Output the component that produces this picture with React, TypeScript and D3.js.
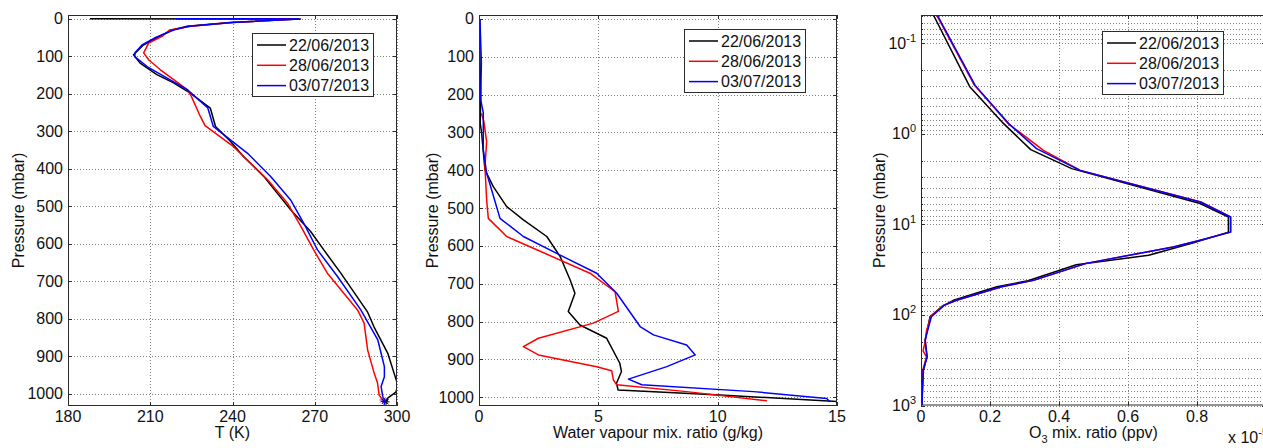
import React from 'react';
import * as d3 from 'd3';

type Pt = [number, number];

const dates = ['22/06/2013', '28/06/2013', '03/07/2013'];
const colors = ['#000000', '#ff0000', '#0000ff'];

// Temperature profiles [pressure mbar, T K]
const tBlack: Pt[] = [[0,188],[0.5,264.8],[10,239],[20,223.5],[30,218],[50,212.5],[70,207.5],[96,203.9],[118,206.3],[149,212.4],[171,218.5],[198,224.6],[238,231.9],[287,233.8],[327,239.3],[367,244],[420,251.4],[509,261.2],[567,268.5],[616,273.3],[678,279.5],[782,289.3],[821,291.6],[891,296.6],[976,300.3],[995,299.6],[1011,296.6],[1021,296]];
const tRed: Pt[] = [[0,249.6],[0.5,262.4],[10,240],[20,225],[30,217],[46,214.5],[65,209.4],[91,207.6],[110,209.5],[136,213.7],[189,223.5],[207,225],[261,228.3],[285,230],[341,240.4],[429,252.8],[491,260],[554,265],[616,269.6],[678,274.6],[776,285.6],[811,288],[883,289.3],[945,291.7],[971,292.9],[1003,293.5],[1016,294.8]];
const tBlue: Pt[] = [[0,219.4],[0.5,264],[10,240],[20,224],[30,218.5],[50,212],[70,207],[90,204.5],[101,204.3],[128,209],[189,223.5],[238,231],[287,233],[330,240.5],[358,245.4],[421,254],[483,261.2],[545,266],[616,271],[687,278.3],[776,286.8],[856,293],[927,295.4],[954,295.4],[980,294.2],[1007,294.8],[1020,295.4]];

// Water vapour mixing ratio [pressure mbar, g/kg]
const wBlack: Pt[] = [[0,0.03],[100,0.04],[213,0.07],[275,0.05],[302,0.11],[399,0.25],[443,0.6],[496,1.16],[531,1.86],[575,2.84],[628,3.4],[690,3.82],[725,4.02],[773,3.74],[809,4.23],[844,5.35],[910,5.9],[932,5.97],[963,5.76],[981,5.83],[994,10.1],[1012,15.3]];
const wRed: Pt[] = [[249,0.1],[270,0.2],[324,0.32],[390,0.25],[478,0.32],[527,0.39],[575,1.16],[610,2.42],[672,4.65],[721,5.7],[773,5.84],[804,4.79],[844,2.49],[866,1.86],[888,2.49],[919,4.93],[930,5.56],[954,5.63],[967,5.77],[985,8.7],[1009,12.06]];
const wBlue: Pt[] = [[0,0.04],[116,0.1],[213,0.07],[248,0.18],[346,0.18],[407,0.32],[527,0.88],[575,1.86],[624,3.4],[672,4.93],[725,5.77],[813,6.75],[835,7.31],[862,8.7],[888,9.06],[919,7.87],[952,6.26],[967,6.82],[985,11.5],[1003,14.57],[1012,14.7]];

// Ozone mixing ratio [pressure mbar, ppv x 1e-5]
const oBlack: Pt[] = [[0.049,0.036],[0.306,0.142],[0.745,0.235],[1.5,0.318],[2.43,0.437],[3.3,0.567],[5.9,0.809],[8.3,0.891],[12.2,0.891],[16,0.79],[22,0.66],[28,0.45],[42,0.31],[49,0.22],[69,0.094],[80,0.062],[105,0.026],[190,0.012],[290,0.017],[410,0.007],[1000,0.002]];
const oRed: Pt[] = [[0.049,0.045],[0.293,0.155],[0.776,0.253],[1.53,0.355],[2.54,0.462],[5.68,0.812],[8.3,0.898],[12.2,0.898],[15,0.81],[17.8,0.731],[27,0.48],[41.6,0.326],[49,0.235],[69,0.103],[78.5,0.065],[105,0.028],[150,0.016],[190,0.013],[250,0.006],[290,0.016],[410,0.005],[1000,0.002]];
const oBlue: Pt[] = [[0.049,0.047],[0.293,0.157],[0.8,0.258],[1.46,0.335],[2.54,0.461],[5.68,0.809],[8.3,0.897],[12.2,0.897],[15,0.809],[17.8,0.731],[27,0.478],[41.6,0.326],[49,0.232],[69,0.103],[78.5,0.067],[105,0.03],[190,0.012],[290,0.018],[410,0.006],[1000,0.003]];

const tTicks = [180, 210, 240, 270, 300];
const wTicks = [0, 5, 10, 15];
const oTicks = [0, 0.2, 0.4, 0.6, 0.8];
const pTicks = [0, 100, 200, 300, 400, 500, 600, 700, 800, 900, 1000];
const logExps = [-1, 0, 1, 2, 3];

const FONT = '"Liberation Sans", Arial, Helvetica, sans-serif';
const FS = 16;
const AXC = '#2b2b2b';
const GRIDC = '#808080';
const LW = 1.5;

interface PanelProps {
  id: string;
  x0: number; x1: number; y0: number; y1: number;
  xs: any; ys: any;
  xTicks: number[];
  xFmt: (v: number) => string;
  yMajor: number[];
  yMinor?: number[];
  yLabel: (v: number) => React.ReactNode;
  series: Pt[][];
  legend: [number, number];
  xLabel: React.ReactNode;
  yTitleX: number;
  stars?: boolean;
  showXLabelTicks?: number[];
}

function Panel(p: PanelProps) {
  const { id, x0, x1, y0, y1, xs, ys } = p;
  const line = d3.line<Pt>().x(d => xs(d[1])).y(d => ys(d[0]));
  const tl = 4;
  const lx = p.legend[0], ly = p.legend[1];
  return (
    <g>
      <defs>
        <clipPath id={id}><rect x={x0} y={y0} width={x1 - x0} height={y1 - y0} /></clipPath>
      </defs>
      <rect x={x0} y={y0} width={x1 - x0} height={y1 - y0} fill="#fff" />
      <g stroke={GRIDC} strokeWidth={1} strokeDasharray="1,2" fill="none">
        {p.xTicks.map(v => <line key={'gx' + v} x1={Math.round(xs(v)) + 0.5} x2={Math.round(xs(v)) + 0.5} y1={y0} y2={y1} />)}
        {p.yMajor.map(v => <line key={'gy' + v} x1={x0} x2={x1} y1={Math.round(ys(v)) + 0.5} y2={Math.round(ys(v)) + 0.5} />)}
        {(p.yMinor || []).map(v => <line key={'gm' + v} x1={x0} x2={x1} y1={Math.round(ys(v)) + 0.5} y2={Math.round(ys(v)) + 0.5} />)}
      </g>
      <g clipPath={`url(#${id})`}>
        {p.series.map((s, i) => (
          <path key={i} d={line(s) || ''} fill="none" stroke={colors[i]} strokeWidth={LW} strokeLinejoin="round" />
        ))}
        {p.stars && p.series.map((s, i) => {
          const d = s[s.length - 1];
          const cx = xs(d[1]), cy = ys(d[0]), r = 3.5;
          return (
            <g key={'st' + i} stroke={i === 1 ? '#7a3aa0' : colors[i]} strokeWidth={1}>
              <line x1={cx - r} x2={cx + r} y1={cy} y2={cy} />
              <line x1={cx} x2={cx} y1={cy - r} y2={cy + r} />
              <line x1={cx - r * 0.7} x2={cx + r * 0.7} y1={cy - r * 0.7} y2={cy + r * 0.7} />
              <line x1={cx - r * 0.7} x2={cx + r * 0.7} y1={cy + r * 0.7} y2={cy - r * 0.7} />
            </g>
          );
        })}
      </g>
      <rect x={x0 + 0.5} y={y0 + 0.5} width={x1 - x0 - 1} height={y1 - y0 - 1} fill="none" stroke={AXC} strokeWidth={1} />
      <g stroke={AXC} strokeWidth={1}>
        {p.xTicks.map(v => {
          const x = Math.round(xs(v)) + 0.5;
          return (
            <g key={'tx' + v}>
              <line x1={x} x2={x} y1={y1} y2={y1 - tl} />
              <line x1={x} x2={x} y1={y0} y2={y0 + tl} />
            </g>
          );
        })}
        {p.yMajor.map(v => {
          const y = Math.round(ys(v)) + 0.5;
          return (
            <g key={'ty' + v}>
              <line x1={x0} x2={x0 + tl} y1={y} y2={y} />
              <line x1={x1} x2={x1 - tl} y1={y} y2={y} />
            </g>
          );
        })}
        {(p.yMinor || []).map(v => {
          const y = Math.round(ys(v)) + 0.5;
          return (
            <g key={'tm' + v}>
              <line x1={x0} x2={x0 + 2} y1={y} y2={y} />
              <line x1={x1} x2={x1 - 2} y1={y} y2={y} />
            </g>
          );
        })}
      </g>
      <g fontFamily={FONT} fontSize={FS} fill="#111">
        {(p.showXLabelTicks || p.xTicks).map(v => (
          <text key={'lx' + v} x={xs(v)} y={y1 + 16} textAnchor="middle">{p.xFmt(v)}</text>
        ))}
        {p.yMajor.map(v => (
          <text key={'ly' + v} x={x0 - 5} y={ys(v) + 5.5} textAnchor="end">{p.yLabel(v)}</text>
        ))}
        <text x={(x0 + x1) / 2} y={y1 + 32} textAnchor="middle">{p.xLabel}</text>
        <text transform={`translate(${p.yTitleX},${(y0 + y1) / 2}) rotate(-90)`} textAnchor="middle">Pressure (mbar)</text>
      </g>
      <g>
        <rect x={lx + 0.5} y={ly + 0.5} width={121} height={63} fill="#fff" stroke={AXC} strokeWidth={1} />
        {dates.map((d, i) => {
          const yy = ly + 12 + i * 20.3;
          return (
            <g key={d}>
              <line x1={lx + 5} x2={lx + 34} y1={yy} y2={yy} stroke={colors[i]} strokeWidth={LW} />
              <text x={lx + 37} y={yy + 5.5} fontFamily={FONT} fontSize={FS} fill="#111">{d}</text>
            </g>
          );
        })}
      </g>
    </g>
  );
}

export default function App() {
  const W = 1263, H = 448;
  const top = 15, bottom = 406;

  const xT = d3.scaleLinear().domain([180, 300]).range([68, 397]);
  const yT = d3.scaleLinear().domain([-10, 1032]).range([top, bottom]);

  const xW = d3.scaleLinear().domain([0, 15]).range([479, 837]);
  const yW = d3.scaleLinear().domain([-10.5, 1023]).range([top, bottom]);

  const xO = d3.scaleLinear().domain([0, 1]).range([921, 1266]);
  const yO = d3.scaleLog().domain([0.049, 1000]).range([top, 405.5]);

  const minor: number[] = [];
  for (let e = -2; e <= 2; e++) {
    for (let m = 2; m <= 9; m++) {
      const v = m * Math.pow(10, e);
      if (v > 0.049 && v < 1000) minor.push(v);
    }
  }

  return (
    <svg width={W} height={H} style={{ position: 'fixed', left: 0, top: 0, background: '#fff' }}>
      <rect x={0} y={0} width={W} height={H} fill="#fff" />
      <Panel id="cT" x0={68} x1={397} y0={top} y1={bottom} xs={xT} ys={yT}
        xTicks={tTicks} xFmt={v => String(v)} yMajor={pTicks} yLabel={v => String(v)}
        series={[tBlack, tRed, tBlue]} legend={[252, 33]} xLabel="T (K)" yTitleX={24} stars />
      <Panel id="cW" x0={479} x1={837} y0={top} y1={bottom} xs={xW} ys={yW}
        xTicks={wTicks} xFmt={v => String(v)} yMajor={pTicks} yLabel={v => String(v)}
        series={[wBlack, wRed, wBlue]} legend={[684, 29]} xLabel="Water vapour mix. ratio (g/kg)" yTitleX={438} />
      <Panel id="cO" x0={921} x1={1266} y0={top} y1={405.5} xs={xO} ys={yO}
        xTicks={[...oTicks, 1]} showXLabelTicks={oTicks} xFmt={v => (v === 0 ? '0' : String(v))}
        yMajor={logExps.map(e => Math.pow(10, e))} yMinor={minor}
        yLabel={v => {
          const e = Math.round(Math.log10(v));
          return <>10<tspan dy={-7} fontSize={11}>{String(e)}</tspan></>;
        }}
        series={[oBlack, oRed, oBlue]} legend={[1102, 31]}
        xLabel={<>O<tspan dy={5} fontSize={11}>3</tspan><tspan dy={-5}> mix. ratio (ppv)</tspan></>}
        yTitleX={885} />
      <text x={1228} y={443} fontFamily={FONT} fontSize={FS} fill="#111">x 10<tspan dy={-7} fontSize={11}>-5</tspan></text>
    </svg>
  );
}
